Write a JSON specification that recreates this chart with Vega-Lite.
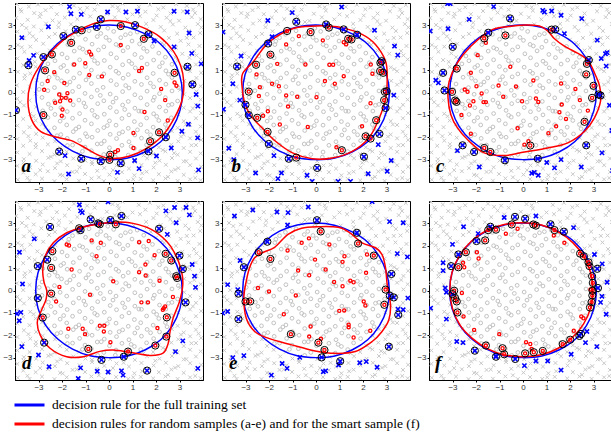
{
"$schema":"https://vega.github.io/schema/vega-lite/v6.json",
"padding":{"left":2,"top":2,"right":0,"bottom":0},
"background":"white",
"config":{
"view":{"stroke":"#000000","strokeWidth":1},
"axis":{"grid":false,"labelFont":"Liberation Sans","labelFontSize":8,"labelColor":"#333333","tickColor":"#000000","tickSize":2,"domainColor":"#000000","labelPadding":1,"labelOverlap":false,"labelSeparation":0,"labelBound":false},
"legend":{"labelFont":"Liberation Serif","labelFontSize":13.5,"labelColor":"#000000","labelLimit":1000,"symbolType":"stroke","symbolSize":900,"symbolStrokeWidth":3,"labelOffset":6,"rowPadding":3,"clipHeight":16,"padding":0}
},
"datasets":{
"gray":[
{"x":-3.92,"y":3.95},{"x":-3.41,"y":3.84},{"x":-3.02,"y":3.93},{"x":-2.46,"y":3.81},{"x":-2.05,"y":3.96},{"x":-1.49,"y":3.88},{"x":-0.93,"y":3.79},{"x":-0.48,"y":3.94},{"x":0.15,"y":3.86},{"x":0.58,"y":3.97},{"x":1.27,"y":3.83},{"x":1.74,"y":3.92},{"x":2.31,"y":3.8},{"x":2.86,"y":3.95},{"x":3.31,"y":3.87},{"x":3.82,"y":3.91},
{"x":-3.73,"y":3.62},{"x":-3.18,"y":3.55},{"x":-2.7,"y":3.68},{"x":-2.22,"y":3.5},{"x":-1.7,"y":3.64},{"x":-1.08,"y":3.57},{"x":-0.61,"y":3.7},{"x":-0.09,"y":3.52},{"x":0.42,"y":3.66},{"x":1.0,"y":3.49},{"x":1.55,"y":3.61},{"x":2.1,"y":3.72},{"x":2.62,"y":3.53},{"x":3.15,"y":3.63},{"x":3.66,"y":3.55},
{"x":-3.95,"y":3.33},{"x":-3.46,"y":3.25},{"x":-2.95,"y":3.38},{"x":-2.4,"y":3.22},{"x":-1.88,"y":3.35},{"x":-1.35,"y":3.28},{"x":-0.8,"y":3.4},{"x":-0.28,"y":3.2},{"x":0.25,"y":3.36},{"x":0.78,"y":3.27},{"x":1.32,"y":3.41},{"x":1.89,"y":3.24},{"x":2.45,"y":3.34},{"x":2.98,"y":3.21},{"x":3.52,"y":3.37},{"x":3.9,"y":3.28},
{"x":-3.7,"y":3.02},{"x":-3.2,"y":2.95},{"x":-2.68,"y":3.08},{"x":-2.15,"y":2.92},{"x":-1.62,"y":3.05},{"x":-1.12,"y":2.85},{"x":-0.62,"y":2.98},{"x":-0.05,"y":2.87},{"x":0.48,"y":3.05},{"x":1.05,"y":2.9},{"x":1.58,"y":3.07},{"x":2.2,"y":2.93},{"x":2.72,"y":3.04},{"x":3.25,"y":2.9},{"x":3.78,"y":3.06},
{"x":-3.9,"y":2.72},{"x":-3.38,"y":2.65},{"x":-2.88,"y":2.78},{"x":-2.3,"y":2.62},{"x":-1.85,"y":2.74},{"x":-1.3,"y":2.6},{"x":-0.85,"y":2.76},{"x":-0.35,"y":2.64},{"x":0.2,"y":2.73},{"x":0.7,"y":2.58},{"x":1.2,"y":2.7},{"x":1.78,"y":2.62},{"x":2.35,"y":2.77},{"x":2.9,"y":2.63},{"x":3.4,"y":2.75},{"x":3.88,"y":2.66},
{"x":-3.62,"y":2.42},{"x":-3.1,"y":2.35},{"x":-2.55,"y":2.48},{"x":-2.02,"y":2.32},{"x":-1.55,"y":2.45},{"x":-1.0,"y":2.38},{"x":-0.5,"y":2.5},{"x":0.02,"y":2.33},{"x":0.5,"y":2.45},{"x":0.98,"y":2.3},{"x":1.48,"y":2.47},{"x":2.0,"y":2.36},{"x":2.55,"y":2.44},{"x":3.05,"y":2.31},{"x":3.6,"y":2.46},
{"x":-3.88,"y":2.12},{"x":-3.35,"y":2.05},{"x":-2.8,"y":2.18},{"x":-2.28,"y":2.02},{"x":-1.75,"y":2.14},{"x":-1.25,"y":2.0},{"x":-0.72,"y":2.16},{"x":-0.22,"y":2.04},{"x":0.3,"y":2.15},{"x":0.8,"y":2.02},{"x":1.3,"y":2.17},{"x":1.85,"y":2.06},{"x":2.35,"y":2.13},{"x":2.85,"y":2.0},{"x":3.38,"y":2.15},{"x":3.85,"y":2.08},
{"x":-3.6,"y":1.82},{"x":-3.05,"y":1.75},{"x":-2.52,"y":1.88},{"x":-2.0,"y":1.72},{"x":-1.48,"y":1.85},{"x":-0.95,"y":1.78},{"x":-0.45,"y":1.9},{"x":0.08,"y":1.73},{"x":0.6,"y":1.86},{"x":1.1,"y":1.7},{"x":1.62,"y":1.84},{"x":2.12,"y":1.76},{"x":2.62,"y":1.88},{"x":3.12,"y":1.73},{"x":3.62,"y":1.85},
{"x":-3.9,"y":1.52},{"x":-3.4,"y":1.45},{"x":-2.85,"y":1.58},{"x":-2.3,"y":1.42},{"x":-1.78,"y":1.55},{"x":-1.25,"y":1.46},{"x":-0.72,"y":1.6},{"x":-0.2,"y":1.43},{"x":0.32,"y":1.55},{"x":0.85,"y":1.4},{"x":1.38,"y":1.56},{"x":1.9,"y":1.45},{"x":2.4,"y":1.58},{"x":2.92,"y":1.42},{"x":3.42,"y":1.55},{"x":3.9,"y":1.48},
{"x":-3.65,"y":1.22},{"x":-3.12,"y":1.15},{"x":-2.6,"y":1.28},{"x":-2.05,"y":1.12},{"x":-1.52,"y":1.25},{"x":-1.0,"y":1.16},{"x":-0.48,"y":1.3},{"x":0.05,"y":1.13},{"x":0.58,"y":1.24},{"x":1.12,"y":1.1},{"x":1.62,"y":1.27},{"x":2.15,"y":1.15},{"x":2.68,"y":1.26},{"x":3.18,"y":1.12},{"x":3.7,"y":1.25},
{"x":-3.88,"y":0.92},{"x":-3.35,"y":0.85},{"x":-2.82,"y":0.98},{"x":-2.3,"y":0.82},{"x":-1.78,"y":0.95},{"x":-1.25,"y":0.86},{"x":-0.75,"y":1.0},{"x":-0.22,"y":0.83},{"x":0.3,"y":0.95},{"x":0.82,"y":0.8},{"x":1.35,"y":0.96},{"x":1.88,"y":0.85},{"x":2.42,"y":0.97},{"x":2.92,"y":0.82},{"x":3.45,"y":0.95},{"x":3.92,"y":0.88},
{"x":-3.6,"y":0.62},{"x":-3.08,"y":0.55},{"x":-2.55,"y":0.68},{"x":-2.02,"y":0.52},{"x":-1.5,"y":0.65},{"x":-0.98,"y":0.56},{"x":-0.46,"y":0.7},{"x":0.08,"y":0.53},{"x":0.6,"y":0.64},{"x":1.1,"y":0.5},{"x":1.62,"y":0.66},{"x":2.15,"y":0.55},{"x":2.68,"y":0.67},{"x":3.2,"y":0.52},{"x":3.72,"y":0.65},
{"x":-3.92,"y":0.32},{"x":-3.38,"y":0.25},{"x":-2.85,"y":0.38},{"x":-2.32,"y":0.22},{"x":-1.8,"y":0.35},{"x":-1.28,"y":0.26},{"x":-0.75,"y":0.4},{"x":-0.25,"y":0.23},{"x":0.32,"y":0.35},{"x":0.85,"y":0.2},{"x":1.38,"y":0.36},{"x":1.9,"y":0.25},{"x":2.42,"y":0.37},{"x":2.95,"y":0.22},{"x":3.45,"y":0.35},{"x":3.9,"y":0.28},
{"x":-3.65,"y":0.02},{"x":-3.12,"y":-0.05},{"x":-2.6,"y":0.08},{"x":-2.08,"y":-0.08},{"x":-1.55,"y":0.05},{"x":-1.02,"y":-0.04},{"x":-0.5,"y":0.1},{"x":0.05,"y":-0.07},{"x":0.58,"y":0.04},{"x":1.1,"y":-0.1},{"x":1.62,"y":0.06},{"x":2.15,"y":-0.05},{"x":2.68,"y":0.07},{"x":3.2,"y":-0.08},{"x":3.72,"y":0.05},
{"x":-3.9,"y":-0.28},{"x":-3.38,"y":-0.35},{"x":-2.85,"y":-0.22},{"x":-2.32,"y":-0.38},{"x":-1.8,"y":-0.25},{"x":-1.28,"y":-0.34},{"x":-0.75,"y":-0.2},{"x":-0.22,"y":-0.37},{"x":0.3,"y":-0.25},{"x":0.82,"y":-0.4},{"x":1.35,"y":-0.24},{"x":1.88,"y":-0.35},{"x":2.4,"y":-0.23},{"x":2.92,"y":-0.38},{"x":3.45,"y":-0.25},{"x":3.9,"y":-0.32},
{"x":-3.62,"y":-0.58},{"x":-3.1,"y":-0.65},{"x":-2.58,"y":-0.52},{"x":-2.05,"y":-0.68},{"x":-1.52,"y":-0.55},{"x":-1.0,"y":-0.64},{"x":-0.48,"y":-0.5},{"x":0.05,"y":-0.67},{"x":0.58,"y":-0.56},{"x":1.1,"y":-0.7},{"x":1.62,"y":-0.54},{"x":2.15,"y":-0.65},{"x":2.68,"y":-0.53},{"x":3.18,"y":-0.68},{"x":3.7,"y":-0.55},
{"x":-3.9,"y":-0.88},{"x":-3.35,"y":-0.95},{"x":-2.82,"y":-0.82},{"x":-2.3,"y":-0.98},{"x":-1.78,"y":-0.85},{"x":-1.25,"y":-0.94},{"x":-0.72,"y":-0.8},{"x":-0.2,"y":-0.97},{"x":0.32,"y":-0.86},{"x":0.85,"y":-1.0},{"x":1.38,"y":-0.84},{"x":1.9,"y":-0.95},{"x":2.42,"y":-0.83},{"x":2.95,"y":-0.98},{"x":3.45,"y":-0.85},{"x":3.92,"y":-0.92},
{"x":-3.65,"y":-1.18},{"x":-3.12,"y":-1.25},{"x":-2.6,"y":-1.12},{"x":-2.08,"y":-1.28},{"x":-1.55,"y":-1.15},{"x":-1.02,"y":-1.24},{"x":-0.5,"y":-1.1},{"x":0.02,"y":-1.27},{"x":0.55,"y":-1.16},{"x":1.08,"y":-1.3},{"x":1.6,"y":-1.14},{"x":2.12,"y":-1.25},{"x":2.65,"y":-1.13},{"x":3.18,"y":-1.28},{"x":3.7,"y":-1.15},
{"x":-3.9,"y":-1.48},{"x":-3.38,"y":-1.55},{"x":-2.85,"y":-1.42},{"x":-2.32,"y":-1.58},{"x":-1.8,"y":-1.45},{"x":-1.28,"y":-1.54},{"x":-0.75,"y":-1.4},{"x":-0.22,"y":-1.57},{"x":0.3,"y":-1.46},{"x":0.82,"y":-1.6},{"x":1.35,"y":-1.44},{"x":1.88,"y":-1.55},{"x":2.4,"y":-1.43},{"x":2.92,"y":-1.58},{"x":3.45,"y":-1.45},{"x":3.9,"y":-1.52},
{"x":-3.62,"y":-1.78},{"x":-3.1,"y":-1.85},{"x":-2.58,"y":-1.72},{"x":-2.05,"y":-1.88},{"x":-1.52,"y":-1.75},{"x":-1.0,"y":-1.84},{"x":-0.48,"y":-1.7},{"x":0.05,"y":-1.87},{"x":0.58,"y":-1.76},{"x":1.1,"y":-1.9},{"x":1.62,"y":-1.74},{"x":2.15,"y":-1.85},{"x":2.68,"y":-1.73},{"x":3.18,"y":-1.88},{"x":3.7,"y":-1.75},
{"x":-3.9,"y":-2.08},{"x":-3.35,"y":-2.15},{"x":-2.82,"y":-2.02},{"x":-2.3,"y":-2.18},{"x":-1.78,"y":-2.05},{"x":-1.25,"y":-2.14},{"x":-0.72,"y":-2.0},{"x":-0.2,"y":-2.17},{"x":0.32,"y":-2.06},{"x":0.85,"y":-2.2},{"x":1.38,"y":-2.04},{"x":1.9,"y":-2.15},{"x":2.42,"y":-2.03},{"x":2.95,"y":-2.18},{"x":3.45,"y":-2.05},{"x":3.92,"y":-2.12},
{"x":-3.65,"y":-2.38},{"x":-3.12,"y":-2.45},{"x":-2.6,"y":-2.32},{"x":-2.08,"y":-2.48},{"x":-1.55,"y":-2.35},{"x":-1.02,"y":-2.44},{"x":-0.5,"y":-2.3},{"x":0.02,"y":-2.47},{"x":0.55,"y":-2.36},{"x":1.08,"y":-2.5},{"x":1.6,"y":-2.34},{"x":2.12,"y":-2.45},{"x":2.65,"y":-2.33},{"x":3.18,"y":-2.48},{"x":3.7,"y":-2.35},
{"x":-3.9,"y":-2.68},{"x":-3.38,"y":-2.75},{"x":-2.85,"y":-2.62},{"x":-2.32,"y":-2.78},{"x":-1.8,"y":-2.65},{"x":-1.28,"y":-2.74},{"x":-0.75,"y":-2.6},{"x":-0.22,"y":-2.77},{"x":0.3,"y":-2.66},{"x":0.82,"y":-2.8},{"x":1.35,"y":-2.64},{"x":1.88,"y":-2.75},{"x":2.4,"y":-2.63},{"x":2.92,"y":-2.78},{"x":3.45,"y":-2.65},{"x":3.9,"y":-2.72},
{"x":-3.62,"y":-2.98},{"x":-3.1,"y":-3.05},{"x":-2.58,"y":-2.92},{"x":-2.05,"y":-3.08},{"x":-1.52,"y":-2.95},{"x":-1.0,"y":-3.04},{"x":-0.48,"y":-2.9},{"x":0.05,"y":-3.07},{"x":0.58,"y":-2.96},{"x":1.1,"y":-3.1},{"x":1.62,"y":-2.94},{"x":2.15,"y":-3.05},{"x":2.68,"y":-2.93},{"x":3.18,"y":-3.08},{"x":3.7,"y":-2.95},
{"x":-3.9,"y":-3.28},{"x":-3.35,"y":-3.35},{"x":-2.82,"y":-3.22},{"x":-2.3,"y":-3.38},{"x":-1.78,"y":-3.25},{"x":-1.25,"y":-3.34},{"x":-0.72,"y":-3.2},{"x":-0.2,"y":-3.37},{"x":0.32,"y":-3.26},{"x":0.85,"y":-3.4},{"x":1.38,"y":-3.24},{"x":1.9,"y":-3.35},{"x":2.42,"y":-3.23},{"x":2.95,"y":-3.38},{"x":3.45,"y":-3.25},{"x":3.92,"y":-3.32},
{"x":-3.65,"y":-3.58},{"x":-3.12,"y":-3.65},{"x":-2.6,"y":-3.52},{"x":-2.08,"y":-3.68},{"x":-1.55,"y":-3.55},{"x":-1.02,"y":-3.64},{"x":-0.5,"y":-3.5},{"x":0.02,"y":-3.67},{"x":0.55,"y":-3.56},{"x":1.08,"y":-3.7},{"x":1.6,"y":-3.54},{"x":2.12,"y":-3.65},{"x":2.65,"y":-3.53},{"x":3.18,"y":-3.68},{"x":3.7,"y":-3.55},
{"x":-3.88,"y":-3.9},{"x":-3.38,"y":-3.95},{"x":-2.85,"y":-3.85},{"x":-2.32,"y":-3.96},{"x":-1.8,"y":-3.88},{"x":-1.28,"y":-3.94},{"x":-0.75,"y":-3.84},{"x":-0.22,"y":-3.96},{"x":0.3,"y":-3.87},{"x":0.82,"y":-3.95},{"x":1.35,"y":-3.86},{"x":1.88,"y":-3.93},{"x":2.4,"y":-3.84},{"x":2.92,"y":-3.95},{"x":3.45,"y":-3.88},{"x":3.9,"y":-3.92},
{"x":-3.77,"y":3.71},{"x":-2.91,"y":3.52},{"x":-1.23,"y":3.74},{"x":0.37,"y":3.81},{"x":2.03,"y":3.44},{"x":3.58,"y":3.71},{"x":-3.52,"y":2.88},{"x":-2.12,"y":3.12},{"x":-0.47,"y":3.15},{"x":1.61,"y":2.83},{"x":2.61,"y":3.19},{"x":3.93,"y":2.91},{"x":-3.24,"y":2.51},{"x":-1.71,"y":2.29},{"x":-0.13,"y":2.46},{"x":0.91,"y":2.63},{"x":2.26,"y":2.22},{"x":3.31,"y":2.44},{"x":-3.71,"y":2.02},{"x":-2.43,"y":1.63},{"x":-1.12,"y":1.94},{"x":0.44,"y":2.08},{"x":1.47,"y":1.97},{"x":2.82,"y":1.57},{"x":3.72,"y":1.66},{"x":-3.16,"y":1.37},{"x":-1.93,"y":1.21},{"x":-0.62,"y":1.42},{"x":0.97,"y":1.29},{"x":2.27,"y":1.33},{"x":3.33,"y":1.04},{"x":-3.57,"y":0.77},{"x":-2.19,"y":0.64},{"x":-0.87,"y":0.71},{"x":0.41,"y":0.86},{"x":1.76,"y":0.42},{"x":2.53,"y":0.82},{"x":3.63,"y":0.47},{"x":-2.97,"y":0.14},{"x":-1.66,"y":0.47},{"x":-0.37,"y":-0.13},{"x":0.71,"y":0.31},{"x":1.93,"y":-0.21},{"x":3.03,"y":0.12},{"x":-3.78,"y":-0.43},{"x":-2.47,"y":-0.71},{"x":-1.07,"y":-0.47},{"x":0.17,"y":-0.43},{"x":1.27,"y":-0.83},{"x":2.53,"y":-0.57},{"x":3.57,"y":-0.71},{"x":-3.21,"y":-1.06},{"x":-1.93,"y":-1.12},{"x":-0.61,"y":-1.02},{"x":0.67,"y":-0.76},{"x":2.03,"y":-1.07},{"x":3.27,"y":-1.43},{"x":-2.71,"y":-1.56},{"x":-1.41,"y":-1.63},{"x":-0.07,"y":-1.48},{"x":1.21,"y":-1.67},{"x":2.47,"y":-1.62},{"x":3.81,"y":-1.93},{"x":-3.43,"y":-1.95},{"x":-2.21,"y":-1.93},{"x":-0.93,"y":-1.97},{"x":0.43,"y":-1.84},{"x":1.77,"y":-1.89},{"x":3.06,"y":-1.97},{"x":-3.11,"y":-2.31},{"x":-1.77,"y":-2.37},{"x":-0.33,"y":-2.29},{"x":0.94,"y":-2.41},{"x":2.29,"y":-2.57},{"x":3.51,"y":-2.36},{"x":-2.47,"y":-2.87},{"x":-1.13,"y":-2.63},{"x":0.27,"y":-2.89},{"x":1.47,"y":-2.81},{"x":2.77,"y":-2.71},{"x":-3.64,"y":-3.13},{"x":-2.21,"y":-3.17},{"x":-0.73,"y":-3.1},{"x":0.62,"y":-3.23},{"x":1.97,"y":-3.14},{"x":3.29,"y":-3.07},{"x":-2.93,"y":-3.47},{"x":-1.37,"y":-3.53},{"x":0.17,"y":-3.47},{"x":1.41,"y":-3.61},{"x":2.81,"y":-3.45},{"x":-3.47,"y":-3.81},{"x":-1.97,"y":-3.71},{"x":-0.43,"y":-3.79},{"x":1.03,"y":-3.88},{"x":2.51,"y":-3.77},{"x":3.67,"y":-3.82}
],
"bc":[{"i":0,"x":3.12,"y":0},{"i":1,"x":3.0,"y":0.8},{"i":2,"x":2.68,"y":1.55},{"i":3,"x":2.18,"y":2.18},{"i":4,"x":1.52,"y":2.63},{"i":5,"x":0.78,"y":2.92},{"i":6,"x":0,"y":3.02},{"i":7,"x":-0.8,"y":2.93},{"i":8,"x":-1.55,"y":2.65},{"i":9,"x":-2.2,"y":2.18},{"i":10,"x":-2.7,"y":1.55},{"i":11,"x":-3.02,"y":0.8},{"i":12,"x":-3.12,"y":0},{"i":13,"x":-3.02,"y":-0.8},{"i":14,"x":-2.7,"y":-1.55},{"i":15,"x":-2.18,"y":-2.17},{"i":16,"x":-1.55,"y":-2.62},{"i":17,"x":-0.8,"y":-2.92},{"i":18,"x":0,"y":-3.0},{"i":19,"x":0.8,"y":-2.93},{"i":20,"x":1.55,"y":-2.65},{"i":21,"x":2.2,"y":-2.2},{"i":22,"x":2.7,"y":-1.57},{"i":23,"x":3.02,"y":-0.8}],
"rca":[{"i":0,"x":0,"y":3.22},{"i":1,"x":-0.6,"y":3.1},{"i":2,"x":-1.16,"y":2.84},{"i":3,"x":-1.85,"y":2.42},{"i":4,"x":-2.43,"y":1.85},{"i":5,"x":-3.0,"y":1.1},{"i":6,"x":-3.35,"y":0.35},{"i":7,"x":-3.45,"y":-0.4},{"i":8,"x":-3.3,"y":-1.2},{"i":9,"x":-2.9,"y":-1.75},{"i":10,"x":-2.2,"y":-2.0},{"i":11,"x":-1.6,"y":-2.15},{"i":12,"x":-1.0,"y":-2.48},{"i":13,"x":-0.45,"y":-2.8},{"i":14,"x":0.1,"y":-2.95},{"i":15,"x":0.85,"y":-2.85},{"i":16,"x":1.6,"y":-2.5},{"i":17,"x":2.3,"y":-1.9},{"i":18,"x":2.8,"y":-1.1},{"i":19,"x":3.12,"y":-0.3},{"i":20,"x":3.18,"y":0.5},{"i":21,"x":3.05,"y":1.2},{"i":22,"x":2.74,"y":1.85},{"i":23,"x":2.15,"y":2.5},{"i":24,"x":1.4,"y":2.92},{"i":25,"x":0.69,"y":3.16}],
"rcb":[{"i":0,"x":0,"y":2.97},{"i":1,"x":-1.0,"y":2.85},{"i":2,"x":-2.0,"y":2.25},{"i":3,"x":-2.65,"y":1.4},{"i":4,"x":-3.12,"y":0.85},{"i":5,"x":-3.15,"y":0.3},{"i":6,"x":-3.05,"y":-0.4},{"i":7,"x":-2.8,"y":-1.0},{"i":8,"x":-2.3,"y":-1.58},{"i":9,"x":-1.72,"y":-2.18},{"i":10,"x":-1.0,"y":-2.7},{"i":11,"x":-0.16,"y":-2.96},{"i":12,"x":0.69,"y":-2.93},{"i":13,"x":1.54,"y":-2.63},{"i":14,"x":2.25,"y":-2.03},{"i":15,"x":2.67,"y":-1.2},{"i":16,"x":2.96,"y":-0.3},{"i":17,"x":3.03,"y":0.6},{"i":18,"x":2.96,"y":1.4},{"i":19,"x":2.53,"y":2.15},{"i":20,"x":1.96,"y":2.6},{"i":21,"x":1.11,"y":2.9},{"i":22,"x":0.55,"y":2.97}],
"rcc":[{"i":0,"x":0.1,"y":3.02},{"i":1,"x":-0.6,"y":2.95},{"i":2,"x":-1.37,"y":2.78},{"i":3,"x":-2.22,"y":2.07},{"i":4,"x":-2.79,"y":1.33},{"i":5,"x":-3.14,"y":0.51},{"i":6,"x":-3.19,"y":-0.24},{"i":7,"x":-3.07,"y":-0.99},{"i":8,"x":-2.79,"y":-1.58},{"i":9,"x":-2.29,"y":-2.18},{"i":10,"x":-1.65,"y":-2.7},{"i":11,"x":-0.8,"y":-2.82},{"i":12,"x":0.06,"y":-2.66},{"i":13,"x":1.05,"y":-2.48},{"i":14,"x":1.91,"y":-2.25},{"i":15,"x":2.62,"y":-1.73},{"i":16,"x":3.04,"y":-1.13},{"i":17,"x":3.3,"y":-0.39},{"i":18,"x":3.26,"y":0.28},{"i":19,"x":3.04,"y":0.88},{"i":20,"x":2.8,"y":1.38},{"i":21,"x":2.45,"y":1.68},{"i":22,"x":1.76,"y":2.07},{"i":23,"x":1.34,"y":2.4},{"i":24,"x":1.05,"y":2.75},{"i":25,"x":0.7,"y":2.97}],
"rcd":[{"i":0,"x":0.3,"y":3.06},{"i":1,"x":-0.25,"y":3.0},{"i":2,"x":-1.09,"y":2.84},{"i":3,"x":-1.8,"y":2.58},{"i":4,"x":-2.37,"y":2.13},{"i":5,"x":-2.72,"y":1.53},{"i":6,"x":-2.82,"y":0.86},{"i":7,"x":-2.76,"y":0.35},{"i":8,"x":-2.65,"y":0.0},{"i":9,"x":-2.68,"y":-0.4},{"i":10,"x":-2.86,"y":-0.85},{"i":11,"x":-3.05,"y":-1.4},{"i":12,"x":-2.93,"y":-1.98},{"i":13,"x":-2.51,"y":-2.58},{"i":14,"x":-1.8,"y":-2.96},{"i":15,"x":-1.09,"y":-2.96},{"i":16,"x":-0.39,"y":-2.72},{"i":17,"x":0.18,"y":-2.66},{"i":18,"x":0.88,"y":-2.76},{"i":19,"x":1.73,"y":-2.9},{"i":20,"x":2.3,"y":-2.8},{"i":21,"x":2.52,"y":-2.36},{"i":22,"x":2.6,"y":-1.83},{"i":23,"x":2.73,"y":-1.23},{"i":24,"x":3.0,"y":-0.49},{"i":25,"x":3.14,"y":0.26},{"i":26,"x":3.07,"y":0.94},{"i":27,"x":2.79,"y":1.68},{"i":28,"x":2.44,"y":2.21},{"i":29,"x":1.8,"y":2.73},{"i":30,"x":1.02,"y":3.0}],
"rce":[{"i":0,"x":0.17,"y":2.85},{"i":1,"x":-0.61,"y":2.78},{"i":2,"x":-1.19,"y":2.51},{"i":3,"x":-1.76,"y":1.93},{"i":4,"x":-2.26,"y":1.7},{"i":5,"x":-2.61,"y":1.46},{"i":6,"x":-2.83,"y":1.01},{"i":7,"x":-2.97,"y":0.41},{"i":8,"x":-3.07,"y":-0.34},{"i":9,"x":-2.97,"y":-1.23},{"i":10,"x":-2.61,"y":-1.83},{"i":11,"x":-2.04,"y":-2.13},{"i":12,"x":-1.04,"y":-2.43},{"i":13,"x":-0.04,"y":-2.7},{"i":14,"x":0.81,"y":-2.81},{"i":15,"x":1.67,"y":-2.73},{"i":16,"x":2.39,"y":-2.28},{"i":17,"x":2.81,"y":-1.83},{"i":18,"x":3.1,"y":-1.31},{"i":19,"x":3.17,"y":-0.64},{"i":20,"x":3.03,"y":0.26},{"i":21,"x":2.96,"y":1.01},{"i":22,"x":2.81,"y":1.61},{"i":23,"x":2.53,"y":1.91},{"i":24,"x":1.96,"y":2.13},{"i":25,"x":1.53,"y":2.51},{"i":26,"x":1.1,"y":2.78},{"i":27,"x":0.67,"y":2.85}],
"rcf":[{"i":0,"x":2.97,"y":0},{"i":1,"x":2.88,"y":0.78},{"i":2,"x":2.6,"y":1.5},{"i":3,"x":2.13,"y":2.13},{"i":4,"x":1.5,"y":2.62},{"i":5,"x":0.78,"y":2.93},{"i":6,"x":0,"y":3.03},{"i":7,"x":-0.8,"y":2.95},{"i":8,"x":-1.55,"y":2.68},{"i":9,"x":-2.2,"y":2.2},{"i":10,"x":-2.7,"y":1.56},{"i":11,"x":-3.02,"y":0.81},{"i":12,"x":-3.11,"y":0},{"i":13,"x":-3.0,"y":-0.8},{"i":14,"x":-2.68,"y":-1.55},{"i":15,"x":-2.16,"y":-2.14},{"i":16,"x":-1.52,"y":-2.6},{"i":17,"x":-0.78,"y":-2.88},{"i":18,"x":0,"y":-2.96},{"i":19,"x":0.77,"y":-2.87},{"i":20,"x":1.5,"y":-2.58},{"i":21,"x":2.1,"y":-2.1},{"i":22,"x":2.58,"y":-1.49},{"i":23,"x":2.88,"y":-0.77}],
"sa":[
{"x":-0.35,"y":3.27,"c":"o","r":1},{"x":-1.41,"y":2.81,"c":"o","r":1},{"x":-0.52,"y":2.93,"c":"o","r":1},{"x":1.11,"y":3.01,"c":"o","r":1},{"x":1.68,"y":2.6,"c":"o","r":1},{"x":-1.94,"y":2.52,"c":"o","r":1},{"x":-2.79,"y":1.58,"c":"o","r":1},{"x":-3.43,"y":1.22,"c":"o","r":1},{"x":-3.96,"y":-0.79,"c":"o","r":1},{"x":3.34,"y":1.15,"c":"o","r":1},{"x":3.55,"y":0.36,"c":"o","r":1},{"x":2.42,"y":-2.0,"c":"o","r":1},{"x":1.68,"y":-2.63,"c":"o","r":1},{"x":-2.12,"y":-2.64,"c":"o","r":1},{"x":-1.18,"y":-2.96,"c":"o","r":1},{"x":-0.35,"y":-3.07,"c":"o","r":1},{"x":0.5,"y":-3.16,"c":"o","r":1},
{"x":-1.16,"y":2.78,"c":"i","r":1},{"x":0.5,"y":2.97,"c":"i","r":1},{"x":1.48,"y":2.4,"c":"i","r":1},{"x":-1.61,"y":2.22,"c":"i","r":1},{"x":-2.43,"y":1.7,"c":"i","r":1},{"x":-2.72,"y":0.99,"c":"i","r":1},{"x":-2.79,"y":-1.01,"c":"i","r":1},{"x":2.79,"y":0.88,"c":"i","r":1},{"x":2.13,"y":-1.78,"c":"i","r":1},{"x":1.75,"y":-2.18,"c":"i","r":1},{"x":0.05,"y":-2.78,"c":"i","r":1},{"x":0.02,"y":-3.01,"c":"i","r":1},
{"x":-1.68,"y":3.84,"c":"o"},{"x":-1.62,"y":3.52,"c":"o"},{"x":-1.18,"y":3.49,"c":"o"},{"x":-0.06,"y":3.6,"c":"o"},{"x":0.72,"y":3.6,"c":"o"},{"x":1.21,"y":3.63,"c":"o"},{"x":2.77,"y":3.63,"c":"o"},{"x":3.33,"y":3.6,"c":"o"},{"x":-2.58,"y":2.94,"c":"o"},{"x":-3.71,"y":2.45,"c":"o"},{"x":-3.21,"y":1.66,"c":"o"},{"x":-3.4,"y":1.43,"c":"o"},{"x":3.41,"y":2.66,"c":"o"},{"x":2.77,"y":2.04,"c":"o"},{"x":3.52,"y":1.75,"c":"o"},{"x":3.92,"y":1.28,"c":"o"},{"x":3.71,"y":-0.09,"c":"o"},{"x":3.78,"y":-0.61,"c":"o"},{"x":3.38,"y":-1.42,"c":"o"},{"x":3.1,"y":-1.73,"c":"o"},{"x":3.77,"y":-2.03,"c":"o"},{"x":2.65,"y":-2.48,"c":"o"},{"x":2.02,"y":-2.84,"c":"o"},{"x":1.09,"y":-3.04,"c":"o"},{"x":1.28,"y":-3.4,"c":"o"},{"x":3.81,"y":-3.46,"c":"o"},{"x":0.36,"y":-3.57,"c":"o"},{"x":-1.87,"y":-2.82,"c":"o"},{"x":-1.72,"y":-3.64,"c":"o"},{"x":1.92,"y":2.3,"c":"o"},
{"x":0.5,"y":2.12,"c":"i"},{"x":-0.84,"y":1.82,"c":"i"},{"x":-0.76,"y":1.7,"c":"i"},{"x":-1.01,"y":1.31,"c":"i"},{"x":-1.48,"y":1.25,"c":"i"},{"x":1.28,"y":0.96,"c":"i"},{"x":1.4,"y":1.1,"c":"i"},{"x":-2.33,"y":0.91,"c":"i"},{"x":-2.61,"y":0.51,"c":"i"},{"x":-1.9,"y":0.42,"c":"i"},{"x":-0.84,"y":0.78,"c":"i"},{"x":-0.3,"y":0.72,"c":"i"},{"x":-2.76,"y":0.12,"c":"i"},{"x":2.22,"y":0.16,"c":"i"},{"x":2.87,"y":0.3,"c":"i"},{"x":2.79,"y":0.45,"c":"i"},{"x":-2.12,"y":-0.09,"c":"i"},{"x":-1.77,"y":-0.03,"c":"i"},{"x":-2.01,"y":-0.24,"c":"i"},{"x":-1.84,"y":-0.24,"c":"i"},{"x":-1.65,"y":-0.36,"c":"i"},{"x":-2.29,"y":-0.46,"c":"i"},{"x":-2.08,"y":-0.39,"c":"i"},{"x":-1.98,"y":-0.76,"c":"i"},{"x":-2.01,"y":-1.04,"c":"i"},{"x":2.39,"y":-0.34,"c":"i"},{"x":1.51,"y":-0.87,"c":"i"},{"x":2.5,"y":-1.25,"c":"i"},{"x":1.04,"y":-1.81,"c":"i"},{"x":1.04,"y":-2.48,"c":"i"},{"x":0.38,"y":-2.58,"c":"i"},{"x":0.26,"y":-2.66,"c":"i"}
],
"sb":[
{"x":-0.84,"y":3.16,"c":"o","r":1},{"x":0.43,"y":3.04,"c":"o","r":1},{"x":1.18,"y":2.82,"c":"o","r":1},{"x":1.75,"y":2.58,"c":"o","r":1},{"x":-2.04,"y":2.19,"c":"o","r":1},{"x":-3.36,"y":1.16,"c":"o","r":1},{"x":-3.0,"y":-0.55,"c":"o","r":1},{"x":-2.86,"y":-1.01,"c":"o","r":1},{"x":-2.01,"y":-2.3,"c":"o","r":1},{"x":-1.16,"y":-2.96,"c":"o","r":1},{"x":0.05,"y":-3.37,"c":"o","r":1},{"x":2.7,"y":-1.85,"c":"o","r":1},{"x":2.04,"y":-2.87,"c":"o","r":1},{"x":2.96,"y":-0.69,"c":"o","r":1},{"x":3.01,"y":0.06,"c":"o","r":1},{"x":2.79,"y":1.4,"c":"o","r":1},
{"x":-1.23,"y":2.75,"c":"i","r":1},{"x":-0.23,"y":2.7,"c":"i","r":1},{"x":0.55,"y":2.9,"c":"i","r":1},{"x":1.37,"y":2.4,"c":"i","r":1},{"x":1.51,"y":2.37,"c":"i","r":1},{"x":-1.94,"y":1.69,"c":"i","r":1},{"x":-2.55,"y":1.24,"c":"i","r":1},{"x":-2.86,"y":0.04,"c":"i","r":1},{"x":-2.5,"y":-1.13,"c":"i","r":1},{"x":-2.06,"y":-1.76,"c":"i","r":1},{"x":-0.84,"y":-2.91,"c":"i","r":1},{"x":1.1,"y":-2.58,"c":"i","r":1},{"x":2.11,"y":-1.96,"c":"i","r":1},{"x":2.32,"y":-2.06,"c":"i","r":1},{"x":2.56,"y":-1.24,"c":"i","r":1},{"x":2.9,"y":-0.34,"c":"i","r":1},{"x":2.93,"y":0.03,"c":"i","r":1},{"x":2.74,"y":1.33,"c":"i","r":1},{"x":2.73,"y":0.96,"c":"i","r":1},{"x":2.86,"y":0.88,"c":"i","r":1},
{"x":-3.96,"y":2.7,"c":"o"},{"x":-2.05,"y":3.22,"c":"o"},{"x":-1.01,"y":3.57,"c":"o"},{"x":-1.87,"y":2.49,"c":"o"},{"x":1.09,"y":3.82,"c":"o"},{"x":2.49,"y":2.78,"c":"o"},{"x":3.34,"y":2.07,"c":"o"},{"x":3.48,"y":1.67,"c":"o"},{"x":-3.19,"y":1.63,"c":"o"},{"x":-3.54,"y":0.39,"c":"o"},{"x":-3.24,"y":-0.34,"c":"o"},{"x":-3.94,"y":-0.75,"c":"o"},{"x":3.31,"y":-0.12,"c":"o"},{"x":-3.71,"y":-2.49,"c":"o"},{"x":-3.5,"y":-3.0,"c":"o"},{"x":-1.79,"y":-2.82,"c":"o"},{"x":-2.57,"y":-3.6,"c":"o"},{"x":-1.47,"y":-3.6,"c":"o"},{"x":-1.62,"y":-3.85,"c":"o"},{"x":-0.38,"y":-3.7,"c":"o"},{"x":-0.16,"y":-3.97,"c":"o"},{"x":0.94,"y":-3.97,"c":"o"},{"x":1.47,"y":-3.97,"c":"o"},{"x":2.22,"y":-3.63,"c":"o"},{"x":3.03,"y":-3.52,"c":"o"},{"x":3.2,"y":-3.04,"c":"o"},{"x":2.65,"y":-2.33,"c":"o"},
{"x":-0.73,"y":2.52,"c":"i"},{"x":0.29,"y":2.33,"c":"i"},{"x":1.18,"y":2.25,"c":"i"},{"x":1.28,"y":2.15,"c":"i"},{"x":-1.27,"y":2.15,"c":"i"},{"x":-1.65,"y":1.28,"c":"i"},{"x":-0.45,"y":1.25,"c":"i"},{"x":0.57,"y":1.24,"c":"i"},{"x":0.73,"y":1.24,"c":"i"},{"x":1.18,"y":0.73,"c":"i"},{"x":0.38,"y":0.51,"c":"i"},{"x":0.8,"y":0.39,"c":"i"},{"x":-2.53,"y":0.81,"c":"i"},{"x":-1.87,"y":0.39,"c":"i"},{"x":-1.58,"y":0.28,"c":"i"},{"x":-2.39,"y":0.24,"c":"i"},{"x":-2.43,"y":-0.16,"c":"i"},{"x":-1.27,"y":-0.13,"c":"i"},{"x":-0.8,"y":-0.19,"c":"i"},{"x":0.02,"y":-0.21,"c":"i"},{"x":-1.19,"y":-0.63,"c":"i"},{"x":-2.05,"y":-0.84,"c":"i"},{"x":-2.25,"y":-1.04,"c":"i"},{"x":-1.54,"y":-1.43,"c":"i"},{"x":-0.35,"y":-1.54,"c":"i"},{"x":2.32,"y":-0.48,"c":"i"},{"x":2.4,"y":0.84,"c":"i"},{"x":2.33,"y":1.25,"c":"i"},{"x":1.96,"y":-1.51,"c":"i"},{"x":0.87,"y":-2.45,"c":"i"}
],
"sc":[
{"x":-1.48,"y":2.67,"c":"o","r":1},{"x":-0.55,"y":3.31,"c":"o","r":1},{"x":1.37,"y":2.82,"c":"o","r":1},{"x":-2.99,"y":2.04,"c":"o","r":1},{"x":-3.4,"y":0.88,"c":"o","r":1},{"x":-3.34,"y":0.09,"c":"o","r":1},{"x":2.8,"y":1.45,"c":"o","r":1},{"x":3.21,"y":-0.09,"c":"o","r":1},{"x":3.3,"y":-0.13,"c":"o","r":1},{"x":2.69,"y":-2.36,"c":"o","r":1},{"x":0.63,"y":-2.96,"c":"o","r":1},{"x":-0.77,"y":-3.03,"c":"o","r":1},{"x":-2.08,"y":-2.66,"c":"o","r":1},{"x":-2.57,"y":-2.36,"c":"o","r":1},
{"x":-1.65,"y":2.42,"c":"i","r":1},{"x":-0.75,"y":2.55,"c":"i","r":1},{"x":1.22,"y":2.81,"c":"i","r":1},{"x":-2.82,"y":1.07,"c":"i","r":1},{"x":-3.02,"y":0.03,"c":"i","r":1},{"x":-2.89,"y":-0.36,"c":"i","r":1},{"x":-2.83,"y":-0.42,"c":"i","r":1},{"x":2.72,"y":1.28,"c":"i","r":1},{"x":2.69,"y":0.81,"c":"i","r":1},{"x":3.0,"y":0.3,"c":"i","r":1},{"x":2.94,"y":-0.24,"c":"i","r":1},{"x":2.62,"y":-1.31,"c":"i","r":1},{"x":0.31,"y":-2.37,"c":"i","r":1},{"x":-1.39,"y":-2.66,"c":"i","r":1},{"x":-1.65,"y":-2.48,"c":"i","r":1},
{"x":-3.21,"y":3.97,"c":"o"},{"x":-3.1,"y":3.97,"c":"o"},{"x":-1.25,"y":3.84,"c":"o"},{"x":-2.29,"y":3.27,"c":"o"},{"x":-3.19,"y":2.85,"c":"o"},{"x":0.84,"y":3.67,"c":"o"},{"x":0.91,"y":3.6,"c":"o"},{"x":1.22,"y":3.64,"c":"o"},{"x":1.62,"y":3.45,"c":"o"},{"x":2.5,"y":3.3,"c":"o"},{"x":1.76,"y":2.63,"c":"o"},{"x":3.16,"y":2.34,"c":"o"},{"x":3.33,"y":1.52,"c":"o"},{"x":3.51,"y":1.73,"c":"o"},{"x":3.58,"y":1.78,"c":"o"},{"x":3.54,"y":1.18,"c":"o"},{"x":-3.71,"y":0.55,"c":"o"},{"x":-3.6,"y":0.43,"c":"o"},{"x":3.68,"y":-0.57,"c":"o"},{"x":3.78,"y":-1.7,"c":"o"},{"x":3.81,"y":-3.49,"c":"o"},{"x":3.36,"y":-2.7,"c":"o"},{"x":-2.79,"y":-2.6,"c":"o"},{"x":-1.86,"y":-3.33,"c":"o"},{"x":1.01,"y":-3.13,"c":"o"},{"x":1.34,"y":-3.37,"c":"o"},{"x":1.62,"y":-3.0,"c":"o"},{"x":2.48,"y":-3.33,"c":"o"},{"x":0.37,"y":-3.61,"c":"o"},{"x":0.48,"y":-3.57,"c":"o"},{"x":0.65,"y":-3.7,"c":"o"},{"x":-3.95,"y":2.75,"c":"o"},
{"x":-1.93,"y":1.67,"c":"i"},{"x":-1.58,"y":2.22,"c":"i"},{"x":-0.54,"y":1.15,"c":"i"},{"x":-2.22,"y":0.88,"c":"i"},{"x":-1.98,"y":0.28,"c":"i"},{"x":-2.48,"y":0.13,"c":"i"},{"x":-2.36,"y":0.03,"c":"i"},{"x":-1.76,"y":-0.04,"c":"i"},{"x":-2.11,"y":-0.39,"c":"i"},{"x":-2.26,"y":-0.58,"c":"i"},{"x":-1.68,"y":-0.43,"c":"i"},{"x":-1.58,"y":-0.43,"c":"i"},{"x":-1.04,"y":0.31,"c":"i"},{"x":-0.84,"y":-0.19,"c":"i"},{"x":-0.3,"y":0.27,"c":"i"},{"x":0.44,"y":0.54,"c":"i"},{"x":-0.04,"y":-0.39,"c":"i"},{"x":0.55,"y":-0.27,"c":"i"},{"x":0.65,"y":-0.42,"c":"i"},{"x":1.62,"y":0.4,"c":"i"},{"x":2.23,"y":0.16,"c":"i"},{"x":2.42,"y":-0.34,"c":"i"},{"x":1.65,"y":-0.54,"c":"i"},{"x":1.55,"y":-0.88,"c":"i"},{"x":1.83,"y":-1.18,"c":"i"},{"x":2.76,"y":-0.81,"c":"i"},{"x":1.41,"y":-1.51,"c":"i"},{"x":-0.23,"y":-1.6,"c":"i"},{"x":1.08,"y":-1.82,"c":"i"},{"x":-2.62,"y":-1.01,"c":"i"},{"x":-2.22,"y":-1.84,"c":"i"},{"x":0.23,"y":-2.18,"c":"i"},{"x":0.06,"y":-2.33,"c":"i"}
],
"sd":[
{"x":-2.51,"y":2.84,"c":"o","r":1},{"x":-0.78,"y":3.18,"c":"o","r":1},{"x":-1.21,"y":2.7,"c":"o","r":1},{"x":-0.46,"y":3.0,"c":"o","r":1},{"x":0.06,"y":3.15,"c":"o","r":1},{"x":0.53,"y":3.33,"c":"o","r":1},{"x":2.13,"y":2.76,"c":"o","r":1},{"x":-2.63,"y":1.38,"c":"o","r":1},{"x":-3.03,"y":1.09,"c":"o","r":1},{"x":-3.03,"y":-0.34,"c":"o","r":1},{"x":-2.76,"y":-2.33,"c":"o","r":1},{"x":-0.32,"y":-3.1,"c":"o","r":1},{"x":0.63,"y":-2.96,"c":"o","r":1},{"x":1.62,"y":-3.58,"c":"o","r":1},{"x":3.0,"y":1.56,"c":"o","r":1},{"x":3.14,"y":0.96,"c":"o","r":1},{"x":3.26,"y":-0.53,"c":"o","r":1},
{"x":-1.27,"y":2.78,"c":"i","r":1},{"x":-0.39,"y":2.96,"c":"i","r":1},{"x":0.29,"y":2.96,"c":"i","r":1},{"x":-2.41,"y":1.76,"c":"i","r":1},{"x":-2.46,"y":1.01,"c":"i","r":1},{"x":-2.46,"y":-0.14,"c":"i","r":1},{"x":-2.82,"y":-1.21,"c":"i","r":1},{"x":-0.88,"y":-2.61,"c":"i","r":1},{"x":0.81,"y":-2.73,"c":"i","r":1},{"x":1.97,"y":-2.46,"c":"i","r":1},{"x":2.41,"y":1.64,"c":"i","r":1},{"x":2.65,"y":1.34,"c":"i","r":1},{"x":2.86,"y":0.64,"c":"i","r":1},{"x":2.9,"y":0.56,"c":"i","r":1},{"x":2.46,"y":-1.2,"c":"i","r":1},{"x":2.44,"y":-2.06,"c":"i","r":1},
{"x":-1.26,"y":3.83,"c":"o"},{"x":-1.21,"y":3.56,"c":"o"},{"x":-1.14,"y":3.48,"c":"o"},{"x":-0.04,"y":3.96,"c":"o"},{"x":2.42,"y":3.56,"c":"o"},{"x":2.79,"y":3.71,"c":"o"},{"x":3.28,"y":3.71,"c":"o"},{"x":3.42,"y":3.38,"c":"o"},{"x":2.86,"y":3.03,"c":"o"},{"x":2.48,"y":2.51,"c":"o"},{"x":-3.18,"y":2.31,"c":"o"},{"x":-3.81,"y":1.71,"c":"o"},{"x":3.54,"y":1.16,"c":"o"},{"x":3.64,"y":0.64,"c":"o"},{"x":3.68,"y":0.14,"c":"o"},{"x":-3.68,"y":0.29,"c":"o"},{"x":-3.92,"y":-1.04,"c":"o"},{"x":-3.75,"y":-0.98,"c":"o"},{"x":-3.82,"y":-1.35,"c":"o"},{"x":-3.71,"y":-2.51,"c":"o"},{"x":3.14,"y":-2.25,"c":"o"},{"x":2.83,"y":-2.73,"c":"o"},{"x":-3.0,"y":-2.88,"c":"o"},{"x":-2.55,"y":-3.41,"c":"o"},{"x":-1.21,"y":-3.46,"c":"o"},{"x":-1.31,"y":-3.93,"c":"o"},{"x":-0.5,"y":-3.61,"c":"o"},{"x":-0.04,"y":-3.64,"c":"o"},{"x":0.53,"y":-3.59,"c":"o"},{"x":0.6,"y":-3.78,"c":"o"},{"x":3.78,"y":-3.48,"c":"o"},
{"x":-1.8,"y":2.06,"c":"i"},{"x":-1.7,"y":2.01,"c":"i"},{"x":-0.74,"y":2.24,"c":"i"},{"x":-0.35,"y":2.13,"c":"i"},{"x":-0.53,"y":1.53,"c":"i"},{"x":1.28,"y":2.16,"c":"i"},{"x":1.69,"y":2.21,"c":"i"},{"x":1.94,"y":1.58,"c":"i"},{"x":1.55,"y":1.16,"c":"i"},{"x":1.28,"y":0.82,"c":"i"},{"x":1.56,"y":0.67,"c":"i"},{"x":-1.59,"y":0.94,"c":"i"},{"x":0.18,"y":0.41,"c":"i"},{"x":-2.11,"y":0.16,"c":"i"},{"x":-2.25,"y":-0.49,"c":"i"},{"x":-0.81,"y":-0.19,"c":"i"},{"x":2.15,"y":0.44,"c":"i"},{"x":2.72,"y":-0.29,"c":"i"},{"x":1.38,"y":-0.53,"c":"i"},{"x":1.66,"y":-0.53,"c":"i"},{"x":2.39,"y":-0.71,"c":"i"},{"x":2.33,"y":-0.79,"c":"i"},{"x":2.29,"y":-0.86,"c":"i"},{"x":-1.73,"y":-1.71,"c":"i"},{"x":-1.12,"y":-1.71,"c":"i"},{"x":-1.02,"y":-1.95,"c":"i"},{"x":-0.39,"y":-1.58,"c":"i"},{"x":-0.2,"y":-1.58,"c":"i"},{"x":-0.22,"y":-1.83,"c":"i"},{"x":0.06,"y":-2.31,"c":"i"},{"x":2.06,"y":-1.68,"c":"i"}
],
"se":[
{"x":0.04,"y":3.14,"c":"o","r":1},{"x":1.74,"y":2.58,"c":"o","r":1},{"x":-2.07,"y":2.18,"c":"o","r":1},{"x":-3.07,"y":1.04,"c":"o","r":1},{"x":3.21,"y":0.74,"c":"o","r":1},{"x":-3.3,"y":-0.14,"c":"o","r":1},{"x":-3.3,"y":-1.28,"c":"o","r":1},{"x":3.14,"y":-0.23,"c":"o","r":1},{"x":3.31,"y":-0.31,"c":"o","r":1},{"x":3.5,"y":-1.09,"c":"o","r":1},{"x":3.1,"y":-2.51,"c":"o","r":1},{"x":0.24,"y":-2.99,"c":"o","r":1},{"x":1.03,"y":-3.16,"c":"o","r":1},
{"x":0.2,"y":2.64,"c":"i","r":1},{"x":1.79,"y":2.1,"c":"i","r":1},{"x":-2.44,"y":1.71,"c":"i","r":1},{"x":-1.94,"y":1.41,"c":"i","r":1},{"x":2.46,"y":1.56,"c":"i","r":1},{"x":-3.0,"y":-0.49,"c":"i","r":1},{"x":-2.8,"y":-0.49,"c":"i","r":1},{"x":2.96,"y":0.04,"c":"i","r":1},{"x":2.91,"y":-0.64,"c":"i","r":1},{"x":-1.07,"y":-1.95,"c":"i","r":1},{"x":0.1,"y":-2.33,"c":"i","r":1},{"x":0.36,"y":-2.66,"c":"i","r":1},
{"x":-3.47,"y":3.33,"c":"o"},{"x":-2.69,"y":3.6,"c":"o"},{"x":-1.66,"y":3.51,"c":"o"},{"x":-1.19,"y":3.48,"c":"o"},{"x":-1.21,"y":2.93,"c":"o"},{"x":-0.33,"y":3.73,"c":"o"},{"x":2.39,"y":3.97,"c":"o"},{"x":3.13,"y":3.08,"c":"o"},{"x":3.71,"y":3.03,"c":"o"},{"x":3.46,"y":1.65,"c":"o"},{"x":3.89,"y":1.5,"c":"o"},{"x":-3.23,"y":1.34,"c":"o"},{"x":-3.76,"y":0.26,"c":"o"},{"x":-3.33,"y":0.04,"c":"o"},{"x":-3.97,"y":-1.01,"c":"o"},{"x":-3.76,"y":-0.94,"c":"o"},{"x":3.49,"y":-0.83,"c":"o"},{"x":3.71,"y":-0.86,"c":"o"},{"x":3.91,"y":-0.34,"c":"o"},{"x":-3.54,"y":-3.0,"c":"o"},{"x":-3.07,"y":-2.91,"c":"o"},{"x":-1.44,"y":-3.26,"c":"o"},{"x":-1.23,"y":-3.48,"c":"o"},{"x":-1.9,"y":-3.78,"c":"o"},{"x":-0.69,"y":-2.99,"c":"o"},{"x":0.31,"y":-3.63,"c":"o"},{"x":0.41,"y":-3.59,"c":"o"},{"x":0.96,"y":-3.33,"c":"o"},{"x":1.86,"y":-3.23,"c":"o"},{"x":2.14,"y":-3.18,"c":"o"},{"x":2.6,"y":-3.43,"c":"o"},
{"x":-0.61,"y":2.13,"c":"i"},{"x":-0.3,"y":2.33,"c":"i"},{"x":0.57,"y":2.06,"c":"i"},{"x":-1.21,"y":1.79,"c":"i"},{"x":-0.04,"y":1.38,"c":"i"},{"x":1.21,"y":1.53,"c":"i"},{"x":1.13,"y":1.28,"c":"i"},{"x":2.17,"y":1.61,"c":"i"},{"x":-0.76,"y":0.89,"c":"i"},{"x":-0.29,"y":0.68,"c":"i"},{"x":0.41,"y":0.94,"c":"i"},{"x":2.13,"y":0.79,"c":"i"},{"x":-2.47,"y":0.11,"c":"i"},{"x":-2.0,"y":-0.04,"c":"i"},{"x":-0.86,"y":-0.22,"c":"i"},{"x":0.77,"y":0.38,"c":"i"},{"x":1.46,"y":0.44,"c":"i"},{"x":1.6,"y":0.37,"c":"i"},{"x":1.13,"y":0.19,"c":"i"},{"x":2.03,"y":-0.49,"c":"i"},{"x":2.1,"y":-0.67,"c":"i"},{"x":-1.37,"y":-1.06,"c":"i"},{"x":0.99,"y":-0.91,"c":"i"},{"x":1.2,"y":-0.89,"c":"i"},{"x":-0.23,"y":-1.61,"c":"i"},{"x":1.39,"y":-1.53,"c":"i"},{"x":1.39,"y":-1.64,"c":"i"},{"x":2.31,"y":-1.8,"c":"i"},{"x":1.6,"y":-2.1,"c":"i"},{"x":-0.29,"y":-2.06,"c":"i"},{"x":0.21,"y":-2.16,"c":"i"}
],
"sf":[
{"x":-1.39,"y":2.85,"c":"o","r":1},{"x":-0.34,"y":3.29,"c":"o","r":1},{"x":0.09,"y":3.21,"c":"o","r":1},{"x":1.17,"y":2.96,"c":"o","r":1},{"x":1.74,"y":2.63,"c":"o","r":1},{"x":-1.98,"y":2.21,"c":"o","r":1},{"x":-2.75,"y":1.61,"c":"o","r":1},{"x":-3.06,"y":1.09,"c":"o","r":1},{"x":-3.0,"y":-0.16,"c":"o","r":1},{"x":-2.05,"y":-2.69,"c":"o","r":1},{"x":-1.15,"y":-2.96,"c":"o","r":1},{"x":-0.33,"y":-3.06,"c":"o","r":1},{"x":2.4,"y":-2.03,"c":"o","r":1},{"x":2.47,"y":-1.94,"c":"o","r":1},{"x":3.16,"y":0.97,"c":"o","r":1},{"x":3.19,"y":0.11,"c":"o","r":1},
{"x":-1.48,"y":2.7,"c":"i","r":1},{"x":-1.15,"y":2.72,"c":"i","r":1},{"x":-0.48,"y":2.95,"c":"i","r":1},{"x":0.44,"y":2.95,"c":"i","r":1},{"x":0.55,"y":2.9,"c":"i","r":1},{"x":1.34,"y":2.7,"c":"i","r":1},{"x":-1.61,"y":2.24,"c":"i","r":1},{"x":-2.43,"y":1.71,"c":"i","r":1},{"x":-2.75,"y":1.04,"c":"i","r":1},{"x":-2.93,"y":-0.01,"c":"i","r":1},{"x":-2.89,"y":-0.34,"c":"i","r":1},{"x":-2.82,"y":-0.49,"c":"i","r":1},{"x":-2.79,"y":-0.98,"c":"i","r":1},{"x":-1.58,"y":-2.46,"c":"i","r":1},{"x":-0.87,"y":-2.58,"c":"i","r":1},{"x":-0.8,"y":-2.85,"c":"i","r":1},{"x":0.09,"y":-2.81,"c":"i","r":1},{"x":0.46,"y":-2.76,"c":"i","r":1},{"x":0.84,"y":-2.7,"c":"i","r":1},{"x":1.69,"y":-2.4,"c":"i","r":1},{"x":2.01,"y":-2.2,"c":"i","r":1},{"x":2.43,"y":1.65,"c":"i","r":1},{"x":2.59,"y":1.53,"c":"i","r":1},{"x":2.79,"y":1.26,"c":"i","r":1},{"x":2.83,"y":1.09,"c":"i","r":1},{"x":2.94,"y":0.64,"c":"i","r":1},{"x":2.97,"y":0.34,"c":"i","r":1},{"x":2.96,"y":-0.01,"c":"i","r":1},{"x":2.95,"y":-0.22,"c":"i","r":1},{"x":2.92,"y":-0.52,"c":"i","r":1},{"x":2.85,"y":-0.76,"c":"i","r":1},
{"x":-2.53,"y":2.85,"c":"o"},{"x":-3.4,"y":1.24,"c":"o"},{"x":-3.4,"y":0.89,"c":"o"},{"x":-3.0,"y":2.06,"c":"o"},{"x":-3.31,"y":0.11,"c":"o"},{"x":-3.26,"y":-0.08,"c":"o"},{"x":-3.93,"y":-0.79,"c":"o"},{"x":-3.26,"y":-1.28,"c":"o"},{"x":-2.82,"y":-2.28,"c":"o"},{"x":-2.55,"y":-2.33,"c":"o"},{"x":-1.91,"y":2.54,"c":"o"},{"x":-0.8,"y":3.26,"c":"o"},{"x":0.55,"y":3.33,"c":"o"},{"x":2.15,"y":2.81,"c":"o"},{"x":3.04,"y":1.61,"c":"o"},{"x":3.37,"y":1.19,"c":"o"},{"x":3.58,"y":0.37,"c":"o"},{"x":3.36,"y":-0.26,"c":"o"},{"x":3.3,"y":-0.53,"c":"o"},{"x":3.54,"y":-1.06,"c":"o"},{"x":2.72,"y":-1.83,"c":"o"},{"x":2.66,"y":-2.33,"c":"o"},{"x":3.14,"y":-2.51,"c":"o"},{"x":2.05,"y":-2.85,"c":"o"},{"x":1.05,"y":-3.15,"c":"o"},{"x":0.55,"y":-3.15,"c":"o"},{"x":0.06,"y":-3.36,"c":"o"},{"x":1.62,"y":-3.56,"c":"o"},{"x":-1.15,"y":-2.93,"c":"o"},
{"x":-0.73,"y":2.54,"c":"i"},{"x":-0.23,"y":2.76,"c":"i"},{"x":1.31,"y":2.46,"c":"i"},{"x":1.76,"y":2.13,"c":"i"},{"x":-1.96,"y":1.71,"c":"i"},{"x":-1.89,"y":1.43,"c":"i"},{"x":-2.55,"y":1.24,"c":"i"},{"x":-2.5,"y":1.04,"c":"i"},{"x":-2.6,"y":-0.11,"c":"i"},{"x":-2.53,"y":-1.16,"c":"i"},{"x":-2.08,"y":-1.76,"c":"i"},{"x":-1.01,"y":-1.95,"c":"i"},{"x":0.13,"y":-2.31,"c":"i"},{"x":0.31,"y":-2.39,"c":"i"},{"x":0.37,"y":-2.61,"c":"i"},{"x":2.16,"y":-1.8,"c":"i"},{"x":2.48,"y":-1.16,"c":"i"},{"x":2.57,"y":-1.24,"c":"i"},{"x":2.87,"y":0.04,"c":"i"}
]
},
"columns":3,
"spacing":{"row":19,"column":19},
"bounds":"flush",
"concat":[
{"width":188,"height":179,"view":{"stroke":"#000000","strokeWidth":1},"layer":[
{"data":{"name":"gray"},"transform":[{"filter":"datum.x*datum.x+datum.y*datum.y<9"}],"mark":{"type":"point","shape":"circle","size":14,"filled":false,"stroke":"#c2c2c2","strokeWidth":1,"opacity":1,"clip":true},"encoding":{"x":{"field":"x","type":"quantitative","scale":{"domain":[-4,4],"nice":false,"zero":false},"axis":{"values":[-3,-2,-1,0,1,2,3],"tickCount":10,"title":null,"labelOverlap":false,"grid":false,"labelFont":"Liberation Sans","labelFontSize":8,"labelColor":"#333333","tickColor":"#000000","tickSize":2,"domainColor":"#000000","labelPadding":1}},"y":{"field":"y","type":"quantitative","scale":{"domain":[-4,4],"nice":false,"zero":false},"axis":{"values":[-3,-2,-1,0,1,2,3],"tickCount":10,"title":null,"labelOverlap":false,"grid":false,"labelFont":"Liberation Sans","labelFontSize":8,"labelColor":"#333333","tickColor":"#000000","tickSize":2,"domainColor":"#000000","labelPadding":1}}}},
{"data":{"name":"gray"},"transform":[{"filter":"datum.x*datum.x+datum.y*datum.y>=9"}],"mark":{"type":"point","shape":"M-1,-1L1,1M-1,1L1,-1","size":14,"filled":false,"stroke":"#c8c8c8","strokeWidth":1,"opacity":1,"clip":true},"encoding":{"x":{"field":"x","type":"quantitative"},"y":{"field":"y","type":"quantitative"}}},
{"data":{"name":"bc"},"mark":{"type":"line","interpolate":"cardinal-closed","strokeWidth":1.5,"clip":true},"encoding":{"x":{"field":"x","type":"quantitative"},"y":{"field":"y","type":"quantitative"},"order":{"field":"i","type":"quantitative"},"color":{"datum":"decision rule for the full training set","type":"nominal","title":null,"scale":{"domain":["decision rule for the full training set","decision rules for random samples (a-e) and for the smart sample (f)"],"range":["#0000ff","#ff0000"]},"legend":{"orient":"none","legendX":-2,"legendY":394,"direction":"vertical","title":null,"labelFont":"Liberation Serif","labelFontSize":13.5,"labelColor":"#000000","labelLimit":1000,"clipHeight":16,"rowPadding":3,"labelOffset":6,"symbolType":"stroke","symbolSize":900,"symbolStrokeWidth":3,"padding":0,"encode":{"symbols":{"update":{"stroke":{"signal":"datum.index === 0 ? '#0a72c2' : '#ff0000'"}}}}}}}},
{"data":{"name":"rca"},"mark":{"type":"line","interpolate":"cardinal-closed","strokeWidth":1.5,"clip":true},"encoding":{"x":{"field":"x","type":"quantitative"},"y":{"field":"y","type":"quantitative"},"order":{"field":"i","type":"quantitative"},"color":{"datum":"decision rules for random samples (a-e) and for the smart sample (f)","type":"nominal"}}},
{"data":{"name":"sa"},"transform":[{"filter":"datum.c=='o'"}],"mark":{"type":"point","shape":"M-1,-1L1,1M-1,1L1,-1","size":18,"filled":false,"stroke":"#0000ff","strokeWidth":1.6,"opacity":1,"clip":true},"encoding":{"x":{"field":"x","type":"quantitative"},"y":{"field":"y","type":"quantitative"}}},
{"data":{"name":"sa"},"transform":[{"filter":"datum.c=='i'"}],"mark":{"type":"point","shape":"circle","size":10,"filled":false,"stroke":"#ff0000","strokeWidth":1.3,"opacity":1,"clip":true},"encoding":{"x":{"field":"x","type":"quantitative"},"y":{"field":"y","type":"quantitative"}}},
{"data":{"name":"sa"},"transform":[{"filter":"datum.r==1"}],"mark":{"type":"point","shape":"circle","size":52,"filled":false,"stroke":"#000000","strokeWidth":1,"opacity":1,"clip":true},"encoding":{"x":{"field":"x","type":"quantitative"},"y":{"field":"y","type":"quantitative"}}},
{"data":{"values":[{}]},"mark":{"type":"text","text":"a","font":"Liberation Serif","fontSize":19,"fontStyle":"italic","fontWeight":"bold","align":"left","baseline":"alphabetic","color":"#000000"},"encoding":{"x":{"datum":-3.72,"type":"quantitative"},"y":{"datum":-3.56,"type":"quantitative"}}}
]},
{"width":188,"height":179,"view":{"stroke":"#000000","strokeWidth":1},"layer":[
{"data":{"name":"gray"},"transform":[{"filter":"datum.x*datum.x+datum.y*datum.y<9"}],"mark":{"type":"point","shape":"circle","size":14,"filled":false,"stroke":"#c2c2c2","strokeWidth":1,"opacity":1,"clip":true},"encoding":{"x":{"field":"x","type":"quantitative","scale":{"domain":[-4,4],"nice":false,"zero":false},"axis":{"values":[-3,-2,-1,0,1,2,3],"tickCount":10,"title":null,"labelOverlap":false,"grid":false,"labelFont":"Liberation Sans","labelFontSize":8,"labelColor":"#333333","tickColor":"#000000","tickSize":2,"domainColor":"#000000","labelPadding":1}},"y":{"field":"y","type":"quantitative","scale":{"domain":[-4,4],"nice":false,"zero":false},"axis":{"values":[-3,-2,-1,0,1,2,3],"tickCount":10,"title":null,"labelOverlap":false,"grid":false,"labelFont":"Liberation Sans","labelFontSize":8,"labelColor":"#333333","tickColor":"#000000","tickSize":2,"domainColor":"#000000","labelPadding":1}}}},
{"data":{"name":"gray"},"transform":[{"filter":"datum.x*datum.x+datum.y*datum.y>=9"}],"mark":{"type":"point","shape":"M-1,-1L1,1M-1,1L1,-1","size":14,"filled":false,"stroke":"#c8c8c8","strokeWidth":1,"opacity":1,"clip":true},"encoding":{"x":{"field":"x","type":"quantitative"},"y":{"field":"y","type":"quantitative"}}},
{"data":{"name":"bc"},"mark":{"type":"line","interpolate":"cardinal-closed","strokeWidth":1.5,"clip":true},"encoding":{"x":{"field":"x","type":"quantitative"},"y":{"field":"y","type":"quantitative"},"order":{"field":"i","type":"quantitative"},"color":{"datum":"decision rule for the full training set","type":"nominal"}}},
{"data":{"name":"rcb"},"mark":{"type":"line","interpolate":"cardinal-closed","strokeWidth":1.5,"clip":true},"encoding":{"x":{"field":"x","type":"quantitative"},"y":{"field":"y","type":"quantitative"},"order":{"field":"i","type":"quantitative"},"color":{"datum":"decision rules for random samples (a-e) and for the smart sample (f)","type":"nominal"}}},
{"data":{"name":"sb"},"transform":[{"filter":"datum.c=='o'"}],"mark":{"type":"point","shape":"M-1,-1L1,1M-1,1L1,-1","size":18,"filled":false,"stroke":"#0000ff","strokeWidth":1.6,"opacity":1,"clip":true},"encoding":{"x":{"field":"x","type":"quantitative"},"y":{"field":"y","type":"quantitative"}}},
{"data":{"name":"sb"},"transform":[{"filter":"datum.c=='i'"}],"mark":{"type":"point","shape":"circle","size":10,"filled":false,"stroke":"#ff0000","strokeWidth":1.3,"opacity":1,"clip":true},"encoding":{"x":{"field":"x","type":"quantitative"},"y":{"field":"y","type":"quantitative"}}},
{"data":{"name":"sb"},"transform":[{"filter":"datum.r==1"}],"mark":{"type":"point","shape":"circle","size":52,"filled":false,"stroke":"#000000","strokeWidth":1,"opacity":1,"clip":true},"encoding":{"x":{"field":"x","type":"quantitative"},"y":{"field":"y","type":"quantitative"}}},
{"data":{"values":[{}]},"mark":{"type":"text","text":"b","font":"Liberation Serif","fontSize":19,"fontStyle":"italic","fontWeight":"bold","align":"left","baseline":"alphabetic","color":"#000000"},"encoding":{"x":{"datum":-3.6,"type":"quantitative"},"y":{"datum":-3.56,"type":"quantitative"}}}
]},
{"width":188,"height":179,"view":{"stroke":"#000000","strokeWidth":1},"layer":[
{"data":{"name":"gray"},"transform":[{"filter":"datum.x*datum.x+datum.y*datum.y<9"}],"mark":{"type":"point","shape":"circle","size":14,"filled":false,"stroke":"#c2c2c2","strokeWidth":1,"opacity":1,"clip":true},"encoding":{"x":{"field":"x","type":"quantitative","scale":{"domain":[-4,4],"nice":false,"zero":false},"axis":{"values":[-3,-2,-1,0,1,2,3],"tickCount":10,"title":null,"labelOverlap":false,"grid":false,"labelFont":"Liberation Sans","labelFontSize":8,"labelColor":"#333333","tickColor":"#000000","tickSize":2,"domainColor":"#000000","labelPadding":1}},"y":{"field":"y","type":"quantitative","scale":{"domain":[-4,4],"nice":false,"zero":false},"axis":{"values":[-3,-2,-1,0,1,2,3],"tickCount":10,"title":null,"labelOverlap":false,"grid":false,"labelFont":"Liberation Sans","labelFontSize":8,"labelColor":"#333333","tickColor":"#000000","tickSize":2,"domainColor":"#000000","labelPadding":1}}}},
{"data":{"name":"gray"},"transform":[{"filter":"datum.x*datum.x+datum.y*datum.y>=9"}],"mark":{"type":"point","shape":"M-1,-1L1,1M-1,1L1,-1","size":14,"filled":false,"stroke":"#c8c8c8","strokeWidth":1,"opacity":1,"clip":true},"encoding":{"x":{"field":"x","type":"quantitative"},"y":{"field":"y","type":"quantitative"}}},
{"data":{"name":"bc"},"mark":{"type":"line","interpolate":"cardinal-closed","strokeWidth":1.5,"clip":true},"encoding":{"x":{"field":"x","type":"quantitative"},"y":{"field":"y","type":"quantitative"},"order":{"field":"i","type":"quantitative"},"color":{"datum":"decision rule for the full training set","type":"nominal"}}},
{"data":{"name":"rcc"},"mark":{"type":"line","interpolate":"cardinal-closed","strokeWidth":1.5,"clip":true},"encoding":{"x":{"field":"x","type":"quantitative"},"y":{"field":"y","type":"quantitative"},"order":{"field":"i","type":"quantitative"},"color":{"datum":"decision rules for random samples (a-e) and for the smart sample (f)","type":"nominal"}}},
{"data":{"name":"sc"},"transform":[{"filter":"datum.c=='o'"}],"mark":{"type":"point","shape":"M-1,-1L1,1M-1,1L1,-1","size":18,"filled":false,"stroke":"#0000ff","strokeWidth":1.6,"opacity":1,"clip":true},"encoding":{"x":{"field":"x","type":"quantitative"},"y":{"field":"y","type":"quantitative"}}},
{"data":{"name":"sc"},"transform":[{"filter":"datum.c=='i'"}],"mark":{"type":"point","shape":"circle","size":10,"filled":false,"stroke":"#ff0000","strokeWidth":1.3,"opacity":1,"clip":true},"encoding":{"x":{"field":"x","type":"quantitative"},"y":{"field":"y","type":"quantitative"}}},
{"data":{"name":"sc"},"transform":[{"filter":"datum.r==1"}],"mark":{"type":"point","shape":"circle","size":52,"filled":false,"stroke":"#000000","strokeWidth":1,"opacity":1,"clip":true},"encoding":{"x":{"field":"x","type":"quantitative"},"y":{"field":"y","type":"quantitative"}}},
{"data":{"values":[{}]},"mark":{"type":"text","text":"c","font":"Liberation Serif","fontSize":19,"fontStyle":"italic","fontWeight":"bold","align":"left","baseline":"alphabetic","color":"#000000"},"encoding":{"x":{"datum":-3.7,"type":"quantitative"},"y":{"datum":-3.56,"type":"quantitative"}}}
]},
{"width":188,"height":179,"view":{"stroke":"#000000","strokeWidth":1},"layer":[
{"data":{"name":"gray"},"transform":[{"filter":"datum.x*datum.x+datum.y*datum.y<9"}],"mark":{"type":"point","shape":"circle","size":14,"filled":false,"stroke":"#c2c2c2","strokeWidth":1,"opacity":1,"clip":true},"encoding":{"x":{"field":"x","type":"quantitative","scale":{"domain":[-4,4],"nice":false,"zero":false},"axis":{"values":[-3,-2,-1,0,1,2,3],"tickCount":10,"title":null,"labelOverlap":false,"grid":false,"labelFont":"Liberation Sans","labelFontSize":8,"labelColor":"#333333","tickColor":"#000000","tickSize":2,"domainColor":"#000000","labelPadding":1}},"y":{"field":"y","type":"quantitative","scale":{"domain":[-4,4],"nice":false,"zero":false},"axis":{"values":[-3,-2,-1,0,1,2,3],"tickCount":10,"title":null,"labelOverlap":false,"grid":false,"labelFont":"Liberation Sans","labelFontSize":8,"labelColor":"#333333","tickColor":"#000000","tickSize":2,"domainColor":"#000000","labelPadding":1}}}},
{"data":{"name":"gray"},"transform":[{"filter":"datum.x*datum.x+datum.y*datum.y>=9"}],"mark":{"type":"point","shape":"M-1,-1L1,1M-1,1L1,-1","size":14,"filled":false,"stroke":"#c8c8c8","strokeWidth":1,"opacity":1,"clip":true},"encoding":{"x":{"field":"x","type":"quantitative"},"y":{"field":"y","type":"quantitative"}}},
{"data":{"name":"bc"},"mark":{"type":"line","interpolate":"cardinal-closed","strokeWidth":1.5,"clip":true},"encoding":{"x":{"field":"x","type":"quantitative"},"y":{"field":"y","type":"quantitative"},"order":{"field":"i","type":"quantitative"},"color":{"datum":"decision rule for the full training set","type":"nominal"}}},
{"data":{"name":"rcd"},"mark":{"type":"line","interpolate":"cardinal-closed","strokeWidth":1.5,"clip":true},"encoding":{"x":{"field":"x","type":"quantitative"},"y":{"field":"y","type":"quantitative"},"order":{"field":"i","type":"quantitative"},"color":{"datum":"decision rules for random samples (a-e) and for the smart sample (f)","type":"nominal"}}},
{"data":{"name":"sd"},"transform":[{"filter":"datum.c=='o'"}],"mark":{"type":"point","shape":"M-1,-1L1,1M-1,1L1,-1","size":18,"filled":false,"stroke":"#0000ff","strokeWidth":1.6,"opacity":1,"clip":true},"encoding":{"x":{"field":"x","type":"quantitative"},"y":{"field":"y","type":"quantitative"}}},
{"data":{"name":"sd"},"transform":[{"filter":"datum.c=='i'"}],"mark":{"type":"point","shape":"circle","size":10,"filled":false,"stroke":"#ff0000","strokeWidth":1.3,"opacity":1,"clip":true},"encoding":{"x":{"field":"x","type":"quantitative"},"y":{"field":"y","type":"quantitative"}}},
{"data":{"name":"sd"},"transform":[{"filter":"datum.r==1"}],"mark":{"type":"point","shape":"circle","size":52,"filled":false,"stroke":"#000000","strokeWidth":1,"opacity":1,"clip":true},"encoding":{"x":{"field":"x","type":"quantitative"},"y":{"field":"y","type":"quantitative"}}},
{"data":{"values":[{}]},"mark":{"type":"text","text":"d","font":"Liberation Serif","fontSize":19,"fontStyle":"italic","fontWeight":"bold","align":"left","baseline":"alphabetic","color":"#000000"},"encoding":{"x":{"datum":-3.7,"type":"quantitative"},"y":{"datum":-3.52,"type":"quantitative"}}}
]},
{"width":188,"height":179,"view":{"stroke":"#000000","strokeWidth":1},"layer":[
{"data":{"name":"gray"},"transform":[{"filter":"datum.x*datum.x+datum.y*datum.y<9"}],"mark":{"type":"point","shape":"circle","size":14,"filled":false,"stroke":"#c2c2c2","strokeWidth":1,"opacity":1,"clip":true},"encoding":{"x":{"field":"x","type":"quantitative","scale":{"domain":[-4,4],"nice":false,"zero":false},"axis":{"values":[-3,-2,-1,0,1,2,3],"tickCount":10,"title":null,"labelOverlap":false,"grid":false,"labelFont":"Liberation Sans","labelFontSize":8,"labelColor":"#333333","tickColor":"#000000","tickSize":2,"domainColor":"#000000","labelPadding":1}},"y":{"field":"y","type":"quantitative","scale":{"domain":[-4,4],"nice":false,"zero":false},"axis":{"values":[-3,-2,-1,0,1,2,3],"tickCount":10,"title":null,"labelOverlap":false,"grid":false,"labelFont":"Liberation Sans","labelFontSize":8,"labelColor":"#333333","tickColor":"#000000","tickSize":2,"domainColor":"#000000","labelPadding":1}}}},
{"data":{"name":"gray"},"transform":[{"filter":"datum.x*datum.x+datum.y*datum.y>=9"}],"mark":{"type":"point","shape":"M-1,-1L1,1M-1,1L1,-1","size":14,"filled":false,"stroke":"#c8c8c8","strokeWidth":1,"opacity":1,"clip":true},"encoding":{"x":{"field":"x","type":"quantitative"},"y":{"field":"y","type":"quantitative"}}},
{"data":{"name":"bc"},"mark":{"type":"line","interpolate":"cardinal-closed","strokeWidth":1.5,"clip":true},"encoding":{"x":{"field":"x","type":"quantitative"},"y":{"field":"y","type":"quantitative"},"order":{"field":"i","type":"quantitative"},"color":{"datum":"decision rule for the full training set","type":"nominal"}}},
{"data":{"name":"rce"},"mark":{"type":"line","interpolate":"cardinal-closed","strokeWidth":1.5,"clip":true},"encoding":{"x":{"field":"x","type":"quantitative"},"y":{"field":"y","type":"quantitative"},"order":{"field":"i","type":"quantitative"},"color":{"datum":"decision rules for random samples (a-e) and for the smart sample (f)","type":"nominal"}}},
{"data":{"name":"se"},"transform":[{"filter":"datum.c=='o'"}],"mark":{"type":"point","shape":"M-1,-1L1,1M-1,1L1,-1","size":18,"filled":false,"stroke":"#0000ff","strokeWidth":1.6,"opacity":1,"clip":true},"encoding":{"x":{"field":"x","type":"quantitative"},"y":{"field":"y","type":"quantitative"}}},
{"data":{"name":"se"},"transform":[{"filter":"datum.c=='i'"}],"mark":{"type":"point","shape":"circle","size":10,"filled":false,"stroke":"#ff0000","strokeWidth":1.3,"opacity":1,"clip":true},"encoding":{"x":{"field":"x","type":"quantitative"},"y":{"field":"y","type":"quantitative"}}},
{"data":{"name":"se"},"transform":[{"filter":"datum.r==1"}],"mark":{"type":"point","shape":"circle","size":52,"filled":false,"stroke":"#000000","strokeWidth":1,"opacity":1,"clip":true},"encoding":{"x":{"field":"x","type":"quantitative"},"y":{"field":"y","type":"quantitative"}}},
{"data":{"values":[{}]},"mark":{"type":"text","text":"e","font":"Liberation Serif","fontSize":19,"fontStyle":"italic","fontWeight":"bold","align":"left","baseline":"alphabetic","color":"#000000"},"encoding":{"x":{"datum":-3.7,"type":"quantitative"},"y":{"datum":-3.52,"type":"quantitative"}}}
]},
{"width":188,"height":179,"view":{"stroke":"#000000","strokeWidth":1},"layer":[
{"data":{"name":"gray"},"transform":[{"filter":"datum.x*datum.x+datum.y*datum.y<9"}],"mark":{"type":"point","shape":"circle","size":14,"filled":false,"stroke":"#c2c2c2","strokeWidth":1,"opacity":1,"clip":true},"encoding":{"x":{"field":"x","type":"quantitative","scale":{"domain":[-4,4],"nice":false,"zero":false},"axis":{"values":[-3,-2,-1,0,1,2,3],"tickCount":10,"title":null,"labelOverlap":false,"grid":false,"labelFont":"Liberation Sans","labelFontSize":8,"labelColor":"#333333","tickColor":"#000000","tickSize":2,"domainColor":"#000000","labelPadding":1}},"y":{"field":"y","type":"quantitative","scale":{"domain":[-4,4],"nice":false,"zero":false},"axis":{"values":[-3,-2,-1,0,1,2,3],"tickCount":10,"title":null,"labelOverlap":false,"grid":false,"labelFont":"Liberation Sans","labelFontSize":8,"labelColor":"#333333","tickColor":"#000000","tickSize":2,"domainColor":"#000000","labelPadding":1}}}},
{"data":{"name":"gray"},"transform":[{"filter":"datum.x*datum.x+datum.y*datum.y>=9"}],"mark":{"type":"point","shape":"M-1,-1L1,1M-1,1L1,-1","size":14,"filled":false,"stroke":"#c8c8c8","strokeWidth":1,"opacity":1,"clip":true},"encoding":{"x":{"field":"x","type":"quantitative"},"y":{"field":"y","type":"quantitative"}}},
{"data":{"name":"bc"},"mark":{"type":"line","interpolate":"cardinal-closed","strokeWidth":1.5,"clip":true},"encoding":{"x":{"field":"x","type":"quantitative"},"y":{"field":"y","type":"quantitative"},"order":{"field":"i","type":"quantitative"},"color":{"datum":"decision rule for the full training set","type":"nominal"}}},
{"data":{"name":"rcf"},"mark":{"type":"line","interpolate":"cardinal-closed","strokeWidth":1.5,"clip":true},"encoding":{"x":{"field":"x","type":"quantitative"},"y":{"field":"y","type":"quantitative"},"order":{"field":"i","type":"quantitative"},"color":{"datum":"decision rules for random samples (a-e) and for the smart sample (f)","type":"nominal"}}},
{"data":{"name":"sf"},"transform":[{"filter":"datum.c=='o'"}],"mark":{"type":"point","shape":"M-1,-1L1,1M-1,1L1,-1","size":18,"filled":false,"stroke":"#0000ff","strokeWidth":1.6,"opacity":1,"clip":true},"encoding":{"x":{"field":"x","type":"quantitative"},"y":{"field":"y","type":"quantitative"}}},
{"data":{"name":"sf"},"transform":[{"filter":"datum.c=='i'"}],"mark":{"type":"point","shape":"circle","size":10,"filled":false,"stroke":"#ff0000","strokeWidth":1.3,"opacity":1,"clip":true},"encoding":{"x":{"field":"x","type":"quantitative"},"y":{"field":"y","type":"quantitative"}}},
{"data":{"name":"sf"},"transform":[{"filter":"datum.r==1"}],"mark":{"type":"point","shape":"circle","size":52,"filled":false,"stroke":"#000000","strokeWidth":1,"opacity":1,"clip":true},"encoding":{"x":{"field":"x","type":"quantitative"},"y":{"field":"y","type":"quantitative"}}},
{"data":{"values":[{}]},"mark":{"type":"text","text":"f","font":"Liberation Serif","fontSize":19,"fontStyle":"italic","fontWeight":"bold","align":"left","baseline":"alphabetic","color":"#000000"},"encoding":{"x":{"datum":-3.75,"type":"quantitative"},"y":{"datum":-3.52,"type":"quantitative"}}}
]}
]
}
